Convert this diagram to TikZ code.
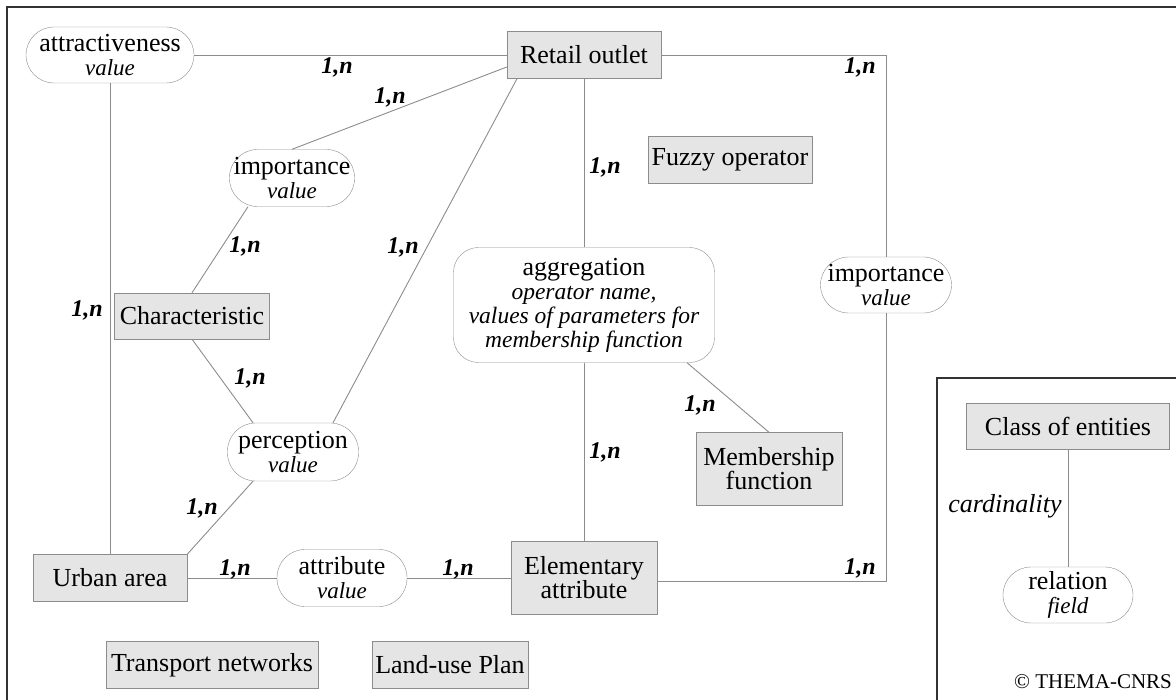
\documentclass[tikz,border=0pt]{standalone}
\usepackage{fontspec}
\setmainfont{Liberation Serif}
\usetikzlibrary{calc}
\usetikzlibrary{positioning}

\newcommand{\valtxt}[1]{\fontsize{23}{20}\selectfont\itshape #1}

\begin{document}
\begin{tikzpicture}[x=1pt,y=-1pt,
    entity/.style={draw=gray!90,fill=gray!20,align=center,inner sep=2pt,
      font=\fontsize{26}{24}\selectfont},
    relation/.style={draw=gray!90,fill=white,rounded corners=28pt,align=center,
      inner sep=2pt,font=\fontsize{26}{24}\selectfont},
    card/.style={font=\fontsize{24}{24}\selectfont\bfseries\itshape},
    link/.style={draw=gray!90,line width=0.9pt},
    frame/.style={draw=black!80,line width=1.6pt}]
    \useasboundingbox (0,0) rectangle (1176,700);
    \draw[frame] (1176,7) -- (7,7) -- (7,700);
    \draw[frame] (937,700) -- (937,378) -- (1176,378);

    % entities
    \node[entity,minimum width=154pt,minimum height=47pt] (ret) at (584,55) {Retail outlet};
    \node[entity,minimum width=164pt,minimum height=47pt] (fuzzy) at (730,160) {Fuzzy operator};
    \node[entity,minimum width=155pt,minimum height=46pt] (char) at (192,316) {Characteristic};
    \node[entity,minimum width=146pt,minimum height=73pt] (memb) at (769,469) {Membership\\function};
    \node[entity,minimum width=154pt,minimum height=47pt] (urban) at (110,578) {Urban area};
    \node[entity,minimum width=146pt,minimum height=73pt] (elem) at (584,578) {Elementary\\attribute};
    \node[entity,minimum width=212pt,minimum height=47pt] (trans) at (212,665) {Transport networks};
    \node[entity,minimum width=156pt,minimum height=47pt] (landuse) at (450,665) {Land-use Plan};

    % relations
    \node[relation,minimum width=168pt,minimum height=56pt] (attract) at (110,55) {attractiveness\\\valtxt{value}};
    \node[relation,minimum width=125pt,minimum height=57pt] (imp1) at (292,178) {importance\\\valtxt{value}};
    \node[relation,minimum width=131pt,minimum height=56pt] (imp2) at (886,285) {importance\\\valtxt{value}};
    \node[relation,minimum width=131pt,minimum height=58pt] (perc) at (293,452) {perception\\\valtxt{value}};
    \node[relation,minimum width=130pt,minimum height=57pt] (attrv) at (342,578) {attribute\\\valtxt{value}};
    \node[relation,rounded corners=25pt,minimum width=261pt,minimum height=115pt] (agg) at (584,305)
      {aggregation\\\fontsize{23.5}{23}\selectfont\itshape operator name,\\
       \fontsize{23.5}{23}\selectfont\itshape values of parameters for\\
       \fontsize{23.5}{23}\selectfont\itshape membership function};

    % links
    \draw[link] (attract) -- (ret);
    \draw[link] (attract) -- (urban);
    \draw[link] ([yshift=-12pt]ret.west) -- (imp1.north);
    \draw[link] ([xshift=-44pt]imp1.south) -- (char.north);
    \draw[link] (char.south) -- ([xshift=-40pt]perc.north);
    \draw[link] ([xshift=-67pt]ret.south) -- ([xshift=40pt]perc.north);
    \draw[link] ([xshift=-40pt]perc.south) -- (urban.north east);
    \draw[link] (urban) -- (attrv);
    \draw[link] (attrv) -- (elem);
    \draw[link] (ret) -- (agg);
    \draw[link] (agg) -- (elem);
    \draw[link] ([xshift=103pt]agg.south) -- (memb.north);
    \draw[link] (ret.east) -| (imp2.north);
    \draw[link] (imp2.south) |- ([yshift=-3pt]elem.east);

    % cardinalities
    \node[card] (c1) at (337,67) {1,n};
    \node[card] (c2) at (390,97) {1,n};
    \node[card] (c3) at (860,67) {1,n};
    \node[card] (c4) at (605,167) {1,n};
    \node[card] (c5) at (245,246) {1,n};
    \node[card] (c6) at (403,247) {1,n};
    \node[card] (c7) at (87,310) {1,n};
    \node[card] (c8) at (250,378) {1,n};
    \node[card] (c9) at (700,405) {1,n};
    \node[card] (c10) at (605,452) {1,n};
    \node[card] (c11) at (202,508) {1,n};
    \node[card] (c12) at (235,569) {1,n};
    \node[card] (c13) at (458,569) {1,n};
    \node[card] (c14) at (860,568) {1,n};

    % legend
    \node[entity,minimum width=203pt,minimum height=46pt] (cls) at (1068,426) {Class of entities};
    \node[relation,minimum width=130pt,minimum height=56pt] (rel) at (1068,595) {relation\\\valtxt{field}};
    \draw[link] (cls) -- (rel);
    \node[font=\fontsize{26}{26}\selectfont\itshape] (cardtxt) at (1005,506) {cardinality};
    \node[font=\fontsize{21}{21}\selectfont] (copy) at (1093,682) {© THEMA-CNRS};
\end{tikzpicture}
\end{document}
